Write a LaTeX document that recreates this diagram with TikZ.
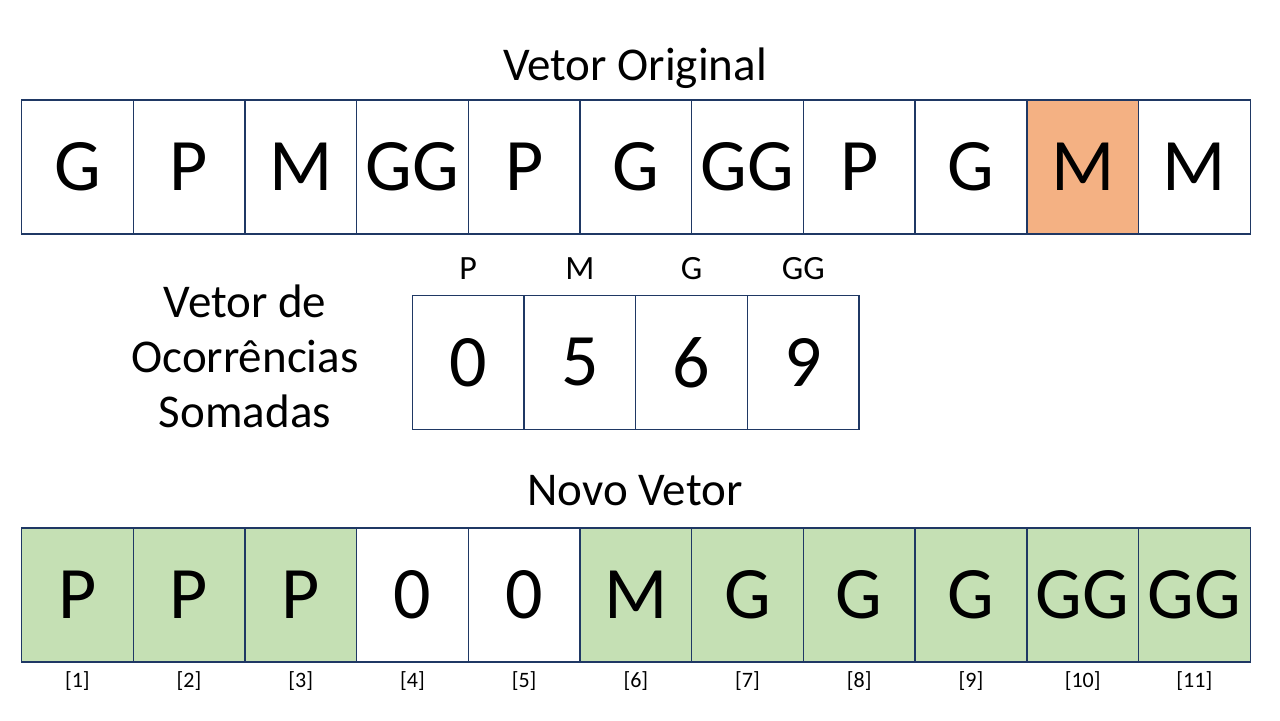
\documentclass[tikz,border=0pt]{standalone}
\usepackage{fontspec}
\setmainfont{Carlito}
\definecolor{edge}{HTML}{1F3864}
\definecolor{hot}{HTML}{F4B183}
\definecolor{done}{HTML}{C5E0B4}
\begin{document}
\begin{tikzpicture}[x=0.5pt,y=-0.5pt,
  cell/.style={draw=edge, line width=0.7pt, minimum width=55.85pt, minimum height=67pt,
    inner sep=0pt, font=\fontsize{37}{44}\selectfont},
  heading/.style={font=\fontsize{23.5}{28}\selectfont, anchor=base, inner sep=0pt},
  key/.style={font=\fontsize{17}{20}\selectfont, anchor=base, inner sep=0pt},
  idx/.style={font=\fontsize{11}{13}\selectfont, anchor=base, inner sep=0pt}]
\useasboundingbox (0,0) rectangle (1280,720);

% original array
\node[heading] (t1) at (635,80) {Vetor Original};
\foreach [count=\i] \t/\c in {G/white,P/white,M/white,GG/white,P/white,G/white,
                               GG/white,P/white,G/white,M/hot,M/white}
  \node[cell, fill=\c] (o\i) at ({21.5+111.7*(\i-0.5)},167) {\t};

% cumulative counts
\node[heading] (l1) at (245,317) {Vetor de};
\node[heading] (l2) at (245,372) {Ocorrências};
\node[heading] (l3) at (245,427) {Somadas};
\foreach [count=\i] \k/\v in {P/0,M/5,G/6,GG/9} {
  \node[cell, fill=white] (c\i) at ({412.3+111.7*(\i-0.5)},362.3) {\v};
  \node[key] (k\i) at ({412.3+111.7*(\i-0.5)},279) {\k};
}

% output array
\node[heading] (t2) at (635,505) {Novo Vetor};
\foreach [count=\i] \t/\c in {P/done,P/done,P/done,0/white,0/white,M/done,
                               G/done,G/done,G/done,GG/done,GG/done} {
  \node[cell, fill=\c] (n\i) at ({21.5+111.7*(\i-0.5)},595) {\t};
  \node[idx] (i\i) at ({21.5+111.7*(\i-0.5)},687) {[\i]};
}
\end{tikzpicture}
\end{document}
